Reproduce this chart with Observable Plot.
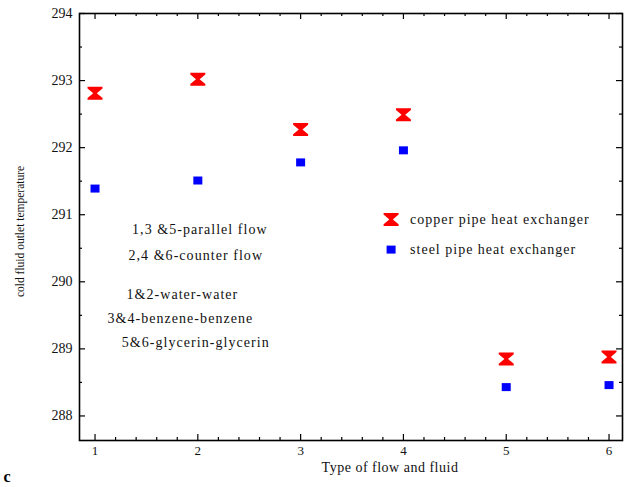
<!DOCTYPE html>
<html>
<head>
<meta charset="utf-8">
<script src="https://cdn.jsdelivr.net/npm/d3@7"></script>
<script src="https://cdn.jsdelivr.net/npm/@observablehq/plot@0.6"></script>
<style>
  body { margin: 0; background: #fff; }
  svg { font-family: "Liberation Serif", serif; }
</style>
</head>
<body>
<div id="chart"></div>
<script>
// Data
const types = [1, 2, 3, 4, 5, 6];
const copper = [292.81, 293.02, 292.27, 292.49, 288.85, 288.88];
const steel = [291.39, 291.51, 291.78, 291.96, 288.43, 288.46];

const xTicks = [1, 2, 3, 4, 5, 6];
const xMinor = d3.range(1, 6.01, 0.2).filter(v => Math.abs(v - Math.round(v)) > 1e-6);
const yTicks = [288, 289, 290, 291, 292, 293, 294];
const yMinor = [287.5, 288.5, 289.5, 290.5, 291.5, 292.5, 293.5].filter(v => v > 287.64);

const seriesNames = ["copper pipe heat exchanger", "steel pipe heat exchanger"];
const notes = ["1,3 &5-parallel flow", "2,4 &6-counter flow", "1&2-water-water", "3&4-benzene-benzene", "5&6-glycerin-glycerin"];
const noteX = [2.02, 1.98, 1.85, 1.83, 1.98];
const noteY = [290.78, 290.39, 289.81, 289.46, 289.10];
const legendX = 3.88;
const legendY = [290.93, 290.48];
const yLabelPos = {x: 0.275, y: 290.75};
const xLabel = "Type of flow and fluid";

const copperData = types.map((t, i) => ({type: t, value: copper[i]}));
const steelData = types.map((t, i) => ({type: t, value: steel[i]}));
const noteData = notes.map((n, i) => ({text: n, x: noteX[i], y: noteY[i]}));

const hourglass = {
  draw(context, size) {
    const w = 7.5, h = 6.5, s = 4.8, n = 1.8;
    context.moveTo(-w, -h);
    context.lineTo(w, -h);
    context.lineTo(w, -s);
    context.lineTo(n, 0);
    context.lineTo(w, s);
    context.lineTo(w, h);
    context.lineTo(-w, h);
    context.lineTo(-w, s);
    context.lineTo(-n, 0);
    context.lineTo(-w, -s);
    context.closePath();
  }
};
const square = {
  draw(context, size) {
    context.rect(-4.5, -4, 9, 8);
  }
};

const W = 624, H = 487, mL = 79, mR = 2, mT = 13, mB = 47;
const PH = H - mT - mB, PW = W - mL - mR;

const chart = Plot.plot({
  width: W,
  height: H,
  marginLeft: mL,
  marginRight: mR,
  marginTop: mT,
  marginBottom: mB,
  x: {domain: [0.849, 6.131], axis: null},
  y: {domain: [287.634, 294], axis: null},
  style: {fontFamily: "Liberation Serif, serif", background: "#fff"},
  marks: [
    Plot.frame({stroke: "#000", strokeWidth: 1.6}),
    // bottom ticks
    Plot.tickX(xTicks, {x: d => d, insetTop: PH - 6, stroke: "#000", strokeWidth: 1.2}),
    Plot.tickX(xMinor, {x: d => d, insetTop: PH - 3, stroke: "#000", strokeWidth: 1.2}),
    // top ticks
    Plot.tickX(xTicks, {x: d => d, insetBottom: PH - 6, stroke: "#000", strokeWidth: 1.2}),
    Plot.tickX(xMinor, {x: d => d, insetBottom: PH - 3, stroke: "#000", strokeWidth: 1.2}),
    // left ticks
    Plot.tickY(yTicks, {y: d => d, insetRight: PW - 6, stroke: "#000", strokeWidth: 1.2}),
    Plot.tickY(yMinor, {y: d => d, insetRight: PW - 3, stroke: "#000", strokeWidth: 1.2}),
    // right ticks
    Plot.tickY(yTicks, {y: d => d, insetLeft: PW - 6, stroke: "#000", strokeWidth: 1.2}),
    Plot.tickY(yMinor, {y: d => d, insetLeft: PW - 3, stroke: "#000", strokeWidth: 1.2}),
    // tick labels
    Plot.text(xTicks, {x: d => d, frameAnchor: "bottom", dy: 14, text: d => String(d), fontSize: 13, fill: "#111"}),
    Plot.text(yTicks, {y: d => d, frameAnchor: "left", dx: -7, textAnchor: "end", text: d => String(d), fontSize: 14, fill: "#111"}),
    // axis labels
    Plot.text(["cold fluid outlet temperature"], {x: () => yLabelPos.x, y: () => yLabelPos.y, rotate: -90, fontSize: 11.5, fill: "#111"}),
    Plot.text([xLabel], {frameAnchor: "bottom", dx: 39, dy: 31, fontSize: 14, fill: "#111"}),
    Plot.text(["c"], {frameAnchor: "bottom-left", dx: -76, dy: 41, textAnchor: "start", fontSize: 16, fontWeight: "bold", fill: "#000"}),
    // notes
    Plot.text(noteData, {x: "x", y: "y", text: "text", fontSize: 14, fill: "#111"}),
    // legend
    Plot.dot([legendY[0]], {x: () => legendX, y: d => d, symbol: hourglass, fill: "#ff0000", stroke: "none"}),
    Plot.dot([legendY[1]], {x: () => legendX, y: d => d, symbol: square, fill: "#0000ff", stroke: "none"}),
    Plot.text(seriesNames, {x: () => legendX, y: (d, i) => legendY[i], dx: 19, textAnchor: "start", fontSize: 14, fill: "#111"}),
    // data
    Plot.dot(steelData, {x: "type", y: "value", symbol: square, fill: "#0000ff", stroke: "none"}),
    Plot.dot(copperData, {x: "type", y: "value", symbol: hourglass, fill: "#ff0000", stroke: "none"})
  ]
});
// letter spacing (not a Plot option): apply after rendering
d3.select(chart).selectAll("text").each(function() {
  const t = this.textContent;
  if (notes.includes(t)) this.setAttribute("letter-spacing", "1.05");
  else if (seriesNames.includes(t)) this.setAttribute("letter-spacing", "1.0");
  else if (t === xLabel) this.setAttribute("letter-spacing", "0.5");
});
document.getElementById("chart").appendChild(chart);
</script>
</body>
</html>
